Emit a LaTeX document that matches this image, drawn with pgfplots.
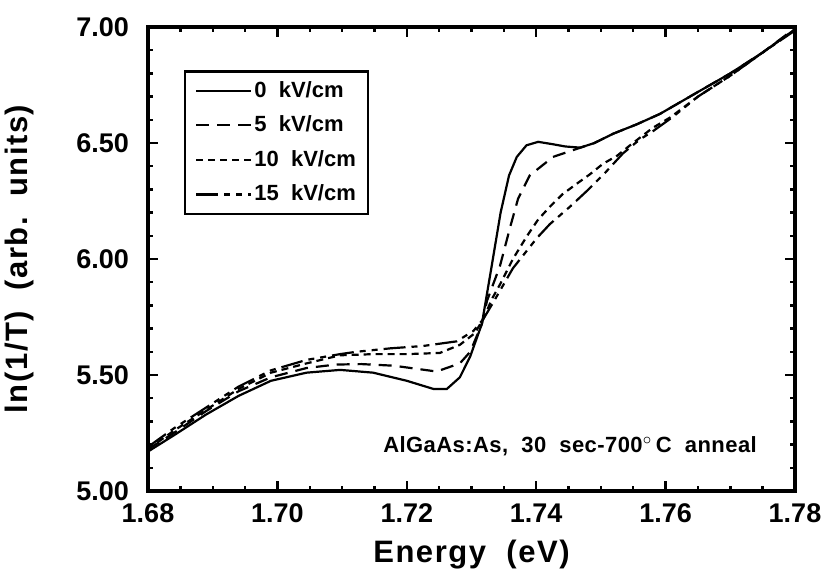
\documentclass[border=0pt]{standalone}
\usepackage{fontspec}
\setmainfont{Liberation Sans}
\newfontfamily\labelfont{Liberation Sans}[LetterSpace=5]
\newfontfamily\notefont{Liberation Sans}[LetterSpace=2]
\usepackage{pgfplots}
\pgfplotsset{compat=1.18}
\usepackage{pgfplotstable}

\pgfplotstableread{
E V
1.6800 5.17
1.6840 5.24
1.6890 5.33
1.6940 5.41
1.6990 5.475
1.7045 5.51
1.7097 5.522
1.7148 5.51
1.7200 5.475
1.7241 5.44
1.7262 5.44
1.7282 5.49
1.7298 5.58
1.7316 5.72
1.7330 5.95
1.7345 6.20
1.7358 6.36
1.7370 6.44
1.7385 6.49
1.7403 6.505
1.7425 6.495
1.7445 6.485
1.7468 6.48
1.7490 6.50
1.7519 6.54
1.7555 6.58
1.7591 6.625
1.7650 6.72
1.7700 6.80
1.7750 6.89
1.7800 6.99
}\tzero

\pgfplotstableread{
E V
1.6800 5.18
1.6840 5.25
1.6890 5.345
1.6940 5.43
1.6990 5.49
1.7045 5.53
1.7090 5.545
1.7130 5.547
1.7180 5.54
1.7246 5.515
1.7282 5.55
1.7298 5.60
1.7316 5.72
1.7324 5.82
1.7344 5.97
1.7360 6.14
1.7372 6.26
1.7390 6.36
1.7426 6.44
1.7463 6.475
1.7490 6.50
1.7519 6.54
1.7555 6.58
1.7591 6.625
1.7650 6.72
1.7700 6.80
1.7750 6.89
1.7800 6.995
}\tfive

\pgfplotstableread{
E V
1.6800 5.18
1.6840 5.26
1.6890 5.35
1.6940 5.44
1.6990 5.51
1.7045 5.55
1.7097 5.585
1.7150 5.59
1.7200 5.59
1.7251 5.595
1.7282 5.63
1.7305 5.68
1.7318 5.74
1.7332 5.83
1.7344 5.89
1.7364 6.00
1.7386 6.10
1.7403 6.17
1.7421 6.225
1.7441 6.28
1.7463 6.325
1.7483 6.365
1.7503 6.41
1.7525 6.445
1.7545 6.49
1.7580 6.565
1.7607 6.61
1.7650 6.70
1.7700 6.79
1.7750 6.89
1.7800 6.99
}\tten

\pgfplotstableread{
E V
1.6800 5.19
1.6840 5.27
1.6890 5.36
1.6940 5.45
1.6990 5.52
1.7045 5.565
1.7097 5.59
1.7122 5.60
1.7175 5.615
1.7225 5.625
1.7277 5.645
1.7303 5.69
1.7318 5.74
1.7333 5.81
1.7364 5.96
1.7401 6.09
1.7421 6.15
1.7452 6.225
1.7479 6.295
1.7506 6.37
1.7534 6.455
1.7560 6.515
1.7580 6.55
1.7610 6.61
1.7650 6.70
1.7700 6.79
1.7750 6.89
1.7800 6.985
}\tfifteen

\begin{document}
\begin{tikzpicture}
\useasboundingbox (0,0) rectangle (412.5pt,294pt);
\begin{axis}[
  at={(74pt,48.5pt)}, anchor=south west,
  scale only axis, width=323.5pt, height=232pt,
  xmin=1.68, xmax=1.78, ymin=5, ymax=7,
  xtick={1.68,1.70,1.72,1.74,1.76,1.78},
  ytick={5,5.5,6,6.5,7},
  minor x tick num=3, minor y tick num=4,
  tick align=inside,
  major tick length=5pt, minor tick length=2.5pt,
  every tick/.style={black, line width=1.2pt},
  axis line style={line width=1.7pt},
  /pgf/number format/assume math mode=true,
  /pgf/number format/fixed,
  /pgf/number format/fixed zerofill,
  /pgf/number format/precision=2,
  xticklabel style={yshift=-3pt},
  yticklabel style={xshift=-6pt},
  tick label style={font=\fontsize{13.5}{16}\selectfont\bfseries},
  label style={font=\labelfont\fontsize{15.5}{18}\selectfont\bfseries},
  xlabel={Energy\ \ (eV)},
  ylabel={ln(1/T)\ \ (arb.\ \ units)},
  xlabel style={at={(axis description cs:0.5,-0.136)}, anchor=center},
  ylabel style={at={(axis description cs:-0.198,0.5)}, anchor=center},
  legend image code/.code={\draw[#1] (0pt,0pt) -- (27.5pt,0pt);},
  legend cell align=left,
  legend style={at={(axis description cs:0.0556,0.907)}, anchor=north west,
    draw=black, line width=1.2pt, inner xsep=5pt, inner ysep=4pt,
    row sep=5.8pt,
    nodes={inner sep=1pt, anchor=west},
    font=\fontsize{11}{13}\selectfont\bfseries},
]
\addplot[black, line width=1.1pt] table[x=E,y=V] {\tzero};
\addlegendentry{0\ \ kV/cm}
\addplot[black, line width=1.1pt, dash pattern=on 6.5pt off 4pt] table[x=E,y=V] {\tfive};
\addlegendentry{5\ \ kV/cm}
\addplot[black, line width=1.1pt, dash pattern=on 3.5pt off 2.5pt] table[x=E,y=V] {\tten};
\addlegendentry{10\ \ kV/cm}
\addplot[black, line width=1.1pt, dash pattern=on 11pt off 3pt on 3pt off 3pt on 3pt off 3pt] table[x=E,y=V] {\tfifteen};
\addlegendentry{15\ \ kV/cm}
\node[anchor=west, font=\notefont\fontsize{11}{13}\selectfont\bfseries, inner sep=0pt] at (axis cs:1.7163,5.195) {AlGaAs:As,\ \ 30\ \ sec-700$^{\circ}$\,C\ \ anneal};
\end{axis}
\end{tikzpicture}
\end{document}
